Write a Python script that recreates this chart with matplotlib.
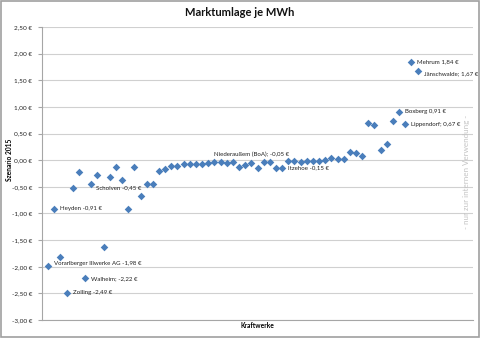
import numpy as np
import matplotlib
matplotlib.use("Agg")
import matplotlib.pyplot as plt
from matplotlib.patches import Rectangle

plt.rcParams["font.family"] = ["Lato", "DejaVu Sans"]

# Marktumlage je MWh, Szenario 2015 (sorted power plants)
werte = [-1.98, -0.91, -1.82, -2.49, -0.52, -0.22, -2.22, -0.45, -0.28, -1.63,
         -0.32, -0.12, -0.38, -0.91, -0.12, -0.67, -0.44, -0.44, -0.20, -0.16,
         -0.10, -0.10, -0.08, -0.08, -0.07, -0.07, -0.06, -0.04, -0.04, -0.05,
         -0.03, -0.13, -0.09, -0.05, -0.14, -0.03, -0.03, -0.15, -0.15, -0.02,
         -0.01, -0.03, -0.01, -0.01, -0.01, 0.01, 0.04, 0.02, 0.02, 0.16,
         0.13, 0.07, 0.69, 0.66, 0.20, 0.30, 0.73, 0.91, 0.67, 1.84, 1.67]
kraftwerk_nr = list(range(1, len(werte) + 1))

# labelled plants: (point number, name with separator)
beschriftung = [
    (1, "Vorarlberger Illwerke AG "),
    (2, "Heyden "),
    (4, "Zolling "),
    (7, "Walheim; "),
    (8, "Scholven "),
    (34, "Niederaußem (BoA); "),
    (39, "Itzehoe "),
    (58, "Boxberg "),
    (59, "Lippendorf; "),
    (60, "Mehrum "),
    (61, "Jänschwalde; "),
]
# label placement in pixels relative to the point
versatz = {34: (0, 8, "center"), 8: (5, -4, "left"), 61: (6, -3, "left"),
           1: (6, 2, "left")}

y_ticks = np.arange(-3.0, 2.51, 0.5)

def euro(v):
    return f"{v:.2f}".replace(".", ",").replace("-0,00", "0,00") + " €"

fig = plt.figure(figsize=(4.8, 3.38), dpi=100)
ax = fig.add_axes([42 / 480, 1 - 320 / 338, 431 / 480, 293 / 338])

ax.scatter(kraftwerk_nr, werte, marker="D", s=15, color="#4A7EBB", zorder=3, linewidths=0)

for nr, name in beschriftung:
    v = werte[nr - 1]
    dx, dy, ha = versatz.get(nr, (6, 0, "left"))
    ax.annotate(name + euro(v), (nr, v), xytext=(dx, dy), textcoords="offset pixels",
                fontsize=4.4, color="#222222", ha=ha, va="center")

ax.set_xlim(0, 70)
ax.set_ylim(-3.0, 2.5)
ax.set_yticks(y_ticks)
ax.set_yticklabels([euro(t) for t in y_ticks], fontsize=4.6, color="#222222")
ax.set_xticks([])
ax.grid(axis="y", color="#D0D0D0", linewidth=0.8)
ax.set_axisbelow(True)
for s in ["top", "right"]:
    ax.spines[s].set_visible(False)
ax.spines["left"].set_color("#A6A6A6")
ax.spines["bottom"].set_color("#A6A6A6")
ax.tick_params(axis="y", length=3, color="#A6A6A6", pad=4)

fig.text(240 / 480, 1 - 13 / 338, "Marktumlage je MWh", fontsize=8, fontweight="bold",
         ha="center", va="center", color="#111111")
fig.text(10 / 480, 1 - 160 / 338, "Szenario 2015", fontsize=4.8, fontweight="bold",
         rotation=90, ha="center", va="center")
fig.text(257 / 480, 1 - 326 / 338, "Kraftwerke", fontsize=4.8, fontweight="bold",
         ha="center", va="center")
fig.text(466 / 480, 1 - 172 / 338, "- nur zur internen Verwendung -", fontsize=5.8,
         rotation=90, ha="center", va="center", color="#C4C4C4")

fig.patches.append(Rectangle((0.002, 0.003), 0.996, 0.994, transform=fig.transFigure,
                             fill=False, edgecolor="#A0A0A0", linewidth=1.2))

fig.savefig("out.png", dpi=100)
